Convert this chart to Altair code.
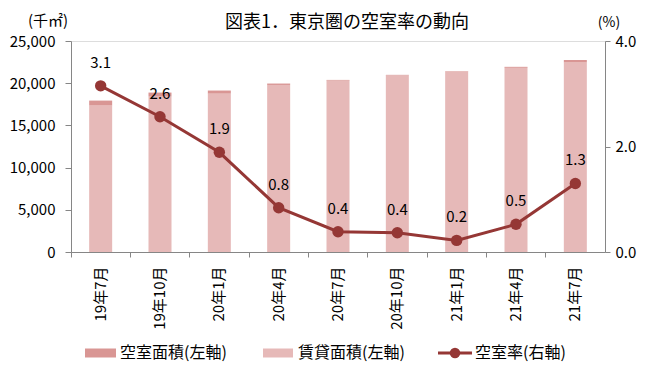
import altair as alt
import pandas as pd

categories = ["19年7月", "19年10月", "20年1月", "20年4月", "20年7月",
              "20年10月", "21年1月", "21年4月", "21年7月"]
rented = [17375, 18405, 18768, 19792, 20311, 20913, 21383, 21825, 22444]
vacant = [565, 485, 362, 168, 79, 77, 47, 115, 296]
rate = [3.15, 2.565, 1.89, 0.84, 0.385, 0.365, 0.22, 0.525, 1.30]
rate_labels = ["3.1", "2.6", "1.9", "0.8", "0.4", "0.4", "0.2", "0.5", "1.3"]

S_VAC = "空室面積(左軸)"
S_RENT = "賃貸面積(左軸)"
S_RATE = "空室率(右軸)"

C_DARK = "#D99694"
C_LIGHT = "#E6B9B8"
C_LINE = "#953735"
AXIS_GRAY = "#868686"
FONT = "Noto Sans CJK JP"

rows = []
for c, r, v in zip(categories, rented, vacant):
    rows.append({"cat": c, "series": S_RENT, "value": r, "ord": 0})
    rows.append({"cat": c, "series": S_VAC, "value": v, "ord": 1})
bars_df = pd.DataFrame(rows)
line_df = pd.DataFrame({"cat": categories, "rate": rate, "label": rate_labels})

x_enc = alt.X(
    "cat:N", sort=categories,
    scale=alt.Scale(paddingInner=0, paddingOuter=0),
    axis=alt.Axis(title=None, labelAngle=270, labelFontSize=15, labelFont=FONT,
                  labelColor="black", labelPadding=9, tickSize=5, bandPosition=0,
                  domainColor=AXIS_GRAY, tickColor=AXIS_GRAY, grid=False),
)

bars = alt.Chart(bars_df).mark_bar(size=23).encode(
    x=x_enc,
    y=alt.Y("value:Q", stack="zero",
            scale=alt.Scale(domain=[0, 25000], nice=False),
            axis=alt.Axis(title=None, values=[0, 5000, 10000, 15000, 20000, 25000],
                          format=",.0f", labelFontSize=15, labelFont=FONT, labelColor="black",
                          labelPadding=10, tickSize=6, grid=False,
                          domainColor=AXIS_GRAY, tickColor=AXIS_GRAY)),
    color=alt.Color("series:N", scale=alt.Scale(domain=[S_VAC, S_RENT], range=[C_DARK, C_LIGHT]),
                    legend=None),
    order=alt.Order("ord:Q", sort="ascending"),
)

y_rate = alt.Y("rate:Q", scale=alt.Scale(domain=[0, 4], nice=False),
               axis=alt.Axis(title=None, orient="right", values=[0, 2, 4], format=".1f",
                             labelFontSize=15, labelFont=FONT, labelColor="black",
                             labelPadding=5, tickSize=5, grid=False,
                             domainColor=AXIS_GRAY, tickColor=AXIS_GRAY))

line = alt.Chart(line_df).mark_line(
    color=C_LINE, strokeWidth=3,
    point=alt.OverlayMarkDef(color=C_LINE, size=130, filled=True, opacity=1),
).encode(x=x_enc, y=y_rate)

labels = alt.Chart(line_df).mark_text(dy=-23, fontSize=15, font=FONT, color="black").encode(
    x=x_enc, y=y_rate, text="label:N")

one = pd.DataFrame({"k": [0]})


def txt(s, x, y, size=15, align="center", weight="normal"):
    return alt.Chart(one).mark_text(text=s, fontSize=size, font=FONT, color="black",
                                    align=align, baseline="middle", fontWeight=weight).encode(
        x=alt.value(x), y=alt.value(y))


title = txt("図表1．東京圏の空室率の動向", 276, -18, size=18)
ytitle_l = txt("(千㎡)", -23, -20, size=15)
ytitle_r = txt("(%)", 538, -18, size=14)

LY = 312
leg_r1 = alt.Chart(one).mark_rect(color=C_DARK).encode(
    x=alt.value(14), x2=alt.value(45), y=alt.value(LY - 4.5), y2=alt.value(LY + 4.5))
leg_t1 = txt(S_VAC, 49, LY, size=16, align="left")
leg_r2 = alt.Chart(one).mark_rect(color=C_LIGHT).encode(
    x=alt.value(192), x2=alt.value(222), y=alt.value(LY - 4.5), y2=alt.value(LY + 4.5))
leg_t2 = txt(S_RENT, 227, LY, size=16, align="left")
leg_l3 = alt.Chart(one).mark_rule(color=C_LINE, strokeWidth=3).encode(
    x=alt.value(367), x2=alt.value(401), y=alt.value(LY))
leg_p3 = alt.Chart(one).mark_point(color=C_LINE, filled=True, opacity=1, size=110, shape="circle").encode(
    x=alt.value(384), y=alt.value(LY))
leg_t3 = txt(S_RATE, 404, LY, size=16, align="left")

chart = alt.layer(
    bars,
    alt.layer(line, labels),
    title, ytitle_l, ytitle_r,
    leg_r1, leg_t1, leg_r2, leg_t2, leg_l3, leg_p3, leg_t3,
).resolve_scale(y="independent").properties(
    width=534, height=211,
    autosize=alt.AutoSizeParams(type="none"),
    padding={"left": 63, "top": 33, "right": 37, "bottom": 115},
).configure_view(stroke=None).configure(background="white")

chart.save("out.html", embed_options={"renderer": "svg", "actions": False})
